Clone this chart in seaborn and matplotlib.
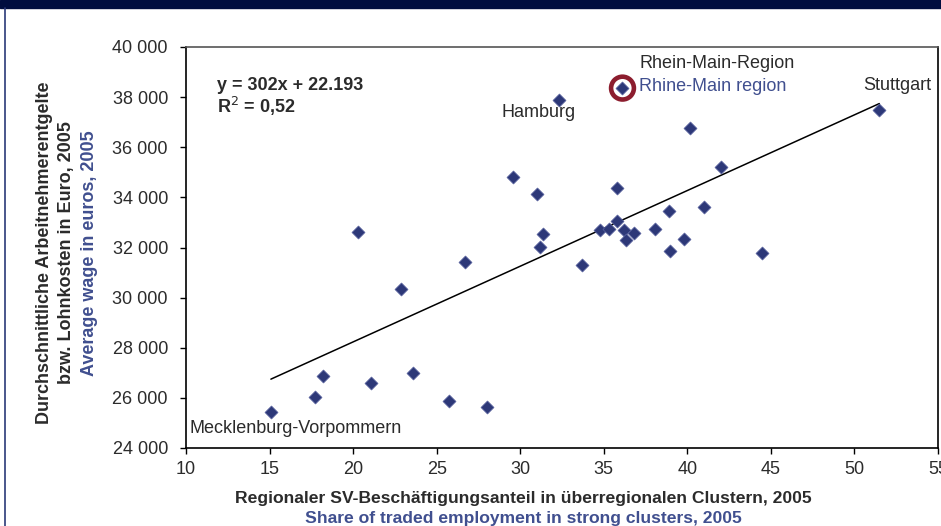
import numpy as np
import pandas as pd
import matplotlib
matplotlib.use("Agg")
import matplotlib.pyplot as plt
from matplotlib.ticker import FuncFormatter
import seaborn as sns

# cluster share (%) vs. average wage (EUR), regions 2005
cluster_share = [15.08, 17.71, 18.17, 20.30, 21.10, 22.87, 23.57, 25.72, 26.68, 28.01,
                 29.59, 31.00, 31.20, 31.37, 32.35, 33.69, 34.75, 35.30, 35.80, 35.80,
                 36.12, 36.24, 36.34, 36.78, 38.09, 38.89, 38.97, 39.79, 40.16, 41.00,
                 42.02, 44.49, 51.49]
avg_wage = [25440, 26030, 26870, 32630, 26590, 30330, 26980, 25870, 31420, 25650,
            34830, 34120, 32030, 32520, 37900, 31310, 32680, 32740, 34390, 33040,
            38360, 32680, 32300, 32570, 32740, 33440, 31860, 32350, 36750, 33620,
            35200, 31800, 37470]
highlight_share = [36.12]
highlight_wage = [38360]
slope, intercept = 302, 22193

x_ticks = [10, 15, 20, 25, 30, 35, 40, 45, 50, 55]
y_ticks = [24000, 26000, 28000, 30000, 32000, 34000, 36000, 38000, 40000]

NAVY = "#000D3F"
BLUE = "#404F8F"
DARK = "#2B2B2B"
MARK = "#2D3878"

sns.set_theme(style="white")
plt.rcParams["font.family"] = ["Liberation Sans", "DejaVu Sans"]
NARROW = ["Liberation Sans Narrow", "Liberation Sans"]

df = pd.DataFrame({"share": cluster_share, "wage": avg_wage})
hl = pd.DataFrame({"share": highlight_share, "wage": highlight_wage})
xs = np.array([min(cluster_share), max(cluster_share)])
fit = pd.DataFrame({"share": xs, "wage": slope * xs + intercept})

fig = plt.figure(figsize=(9.41, 5.26), dpi=100)
ax = fig.add_axes([186 / 941, 1 - 448 / 526, (938 - 186) / 941, (448 - 47) / 526])

sns.lineplot(data=fit, x="share", y="wage", ax=ax, color="black", linewidth=1.1)
sns.scatterplot(data=df, x="share", y="wage", ax=ax, marker="D", color=MARK,
                s=44, edgecolor="#5A64A0", linewidth=0.5, zorder=3)
sns.scatterplot(data=hl, x="share", y="wage", ax=ax, marker="o", s=270,
                facecolor="none", edgecolor="#8C1D2E", linewidth=3.3, zorder=4)

ax.set_xlim(10, 55)
ax.set_ylim(24000, 40000)
ax.set_xticks(x_ticks)
ax.set_yticks(y_ticks)
ax.yaxis.set_major_formatter(FuncFormatter(lambda v, p: f"{v:,.0f}".replace(",", " ")))
ax.set_xlabel("")
ax.set_ylabel("")
ax.tick_params(axis="both", direction="out", length=4, width=1, color="black",
               bottom=True, left=True)
ax.tick_params(axis="y", labelsize=13, labelcolor=DARK, pad=9)
ax.tick_params(axis="x", pad=5)
for lbl in ax.get_xticklabels():
    lbl.set_family(NARROW)
    lbl.set_fontsize(13)
    lbl.set_color(DARK)
for side in ["left", "bottom", "right"]:
    ax.spines[side].set_color("black")
    ax.spines[side].set_linewidth(1.2)
ax.spines["top"].set_color("#555555")
ax.spines["top"].set_linewidth(1.2)

# annotations
ax.text(11.86, 38480, "y = 302x + 22.193", fontsize=13, fontweight="bold", color=DARK, va="center")
ax.text(11.86, 37640, "R$^2$ = 0,52", fontsize=13, fontweight="bold", color=DARK, va="center")
ax.text(31.12, 37370, "Hamburg", fontsize=13, color=DARK, ha="center", va="center")
ax.text(37.11, 39360, "Rhein-Main-Region", fontsize=13, color=DARK, va="center")
ax.text(37.11, 38440, "Rhine-Main region", fontsize=13, color=BLUE, va="center")
ax.text(52.58, 38480, "Stuttgart", fontsize=13, color=DARK, ha="center", va="center")
ax.text(10.18, 24760, "Mecklenburg-Vorpommern", fontsize=13, color=DARK, va="center")

# axis titles (German + English)
fig.text(45 / 941, 1 - 253 / 526, "Durchschnittliche Arbeitnehmerentgelte", rotation=90,
         ha="center", va="center", fontsize=13, fontweight="bold", color=DARK)
fig.text(67 / 941, 1 - 253 / 526, "bzw. Lohnkosten in Euro, 2005", rotation=90,
         ha="center", va="center", fontsize=13, fontweight="bold", color=DARK)
fig.text(89 / 941, 1 - 253 / 526, "Average wage in euros, 2005", rotation=90,
         ha="center", va="center", fontsize=13, fontweight="bold", color=BLUE)
fig.text(523 / 941, 1 - 498 / 526, "Regionaler SV-Beschäftigungsanteil in überregionalen Clustern, 2005",
         ha="center", va="center", fontsize=12.6, fontweight="bold", color=DARK, family=NARROW)
fig.text(523 / 941, 1 - 518 / 526, "Share of traded employment in strong clusters, 2005",
         ha="center", va="center", fontsize=12.6, fontweight="bold", color=BLUE, family=NARROW)

# navy header band and left rule
fig.patches.append(plt.Rectangle((0, 1 - 8 / 526), 1, 8 / 526, transform=fig.transFigure,
                                 color=NAVY, zorder=0))
fig.lines.append(plt.Line2D([5 / 941, 5 / 941], [0, 1 - 8 / 526], transform=fig.transFigure,
                            color="#2B3A78", linewidth=1.2))

fig.savefig("out.png", dpi=100)
